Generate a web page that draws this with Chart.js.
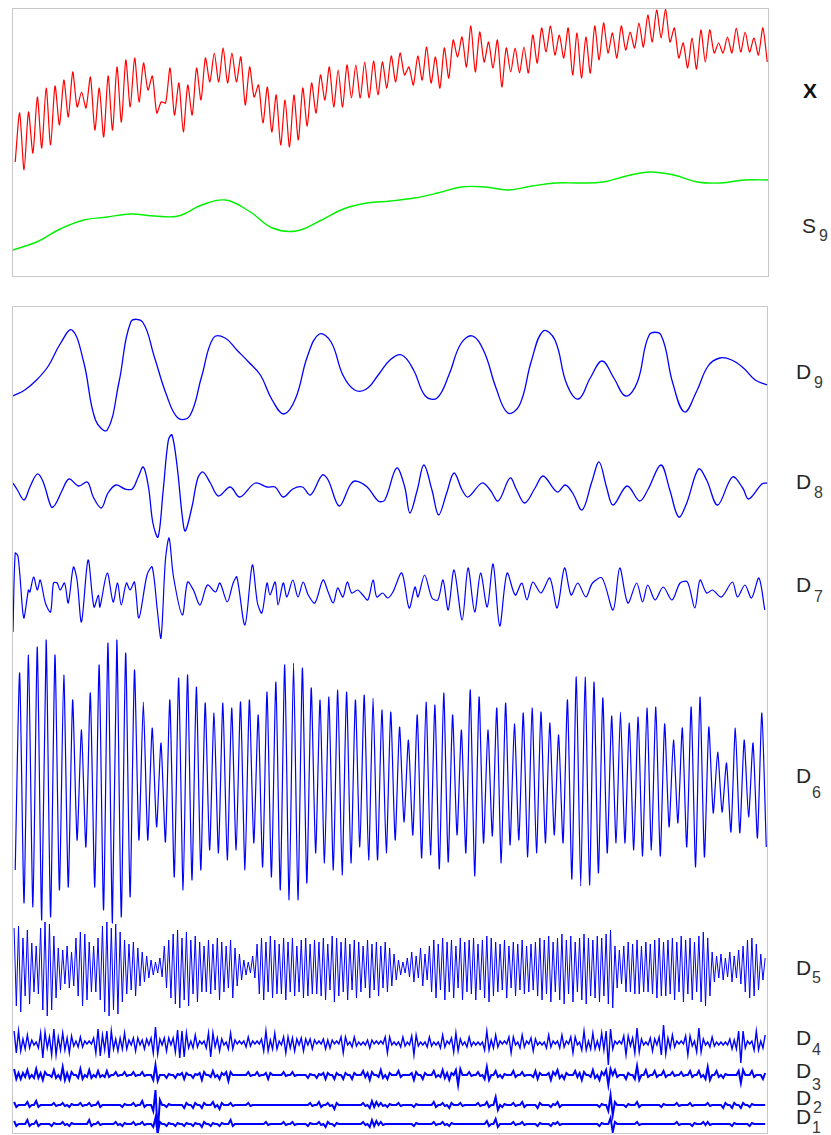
<!DOCTYPE html>
<html><head><meta charset="utf-8">
<script src="https://cdn.jsdelivr.net/npm/chart.js@4.4.1/dist/chart.umd.min.js"></script>
<style>
html,body{margin:0;padding:0;background:#fff;}
#page{position:relative;width:831px;height:1135px;overflow:hidden;font-family:"Liberation Sans",Arial,sans-serif;}
.panel{position:absolute;border:1px solid #c8c8c8;}
.panel canvas{position:absolute;left:0;top:0;}
.lab{position:absolute;font-size:21px;line-height:21px;color:#262626;white-space:nowrap;}
.sub{position:absolute;font-size:16px;line-height:16px;color:#3a3a3a;white-space:nowrap;}
</style></head>
<body><div id="page">
<div class="panel" style="left:12px;top:8px;width:755px;height:267px;"><canvas id="cTop" width="755" height="267" style="width:755px;height:267px"></canvas></div>
<div class="panel" style="left:12px;top:306px;width:754px;height:826px;"><canvas id="cBot" width="754" height="826" style="width:754px;height:826px"></canvas></div>
</div>
<script>
// ---------------- DATA ----------------
// time axis: sample index 0..1024
const T_MIN = 0, T_MAX = 1024;
// sampling of the coarse-grid series (X, D6)
const X_T0 = 3, X_DT = 6;
// sampling of the fine-grid series (D5..D1)
const F_T0 = 1.5, F_DT = 3;
// S9 / D9 sampling
const S9_T0 = 0, S9_DT = 32;
const D9_T0 = 0, D9_DT = 16;

const xSignal = [113,162,105,163,122,178,127,187,130,189,
150,195,158,203,168,183,167,198,145,187,
138,199,145,208,153,215,168,217,173,212,
185,199,162,173,172,207,160,192,143,190,
160,207,175,217,193,222,193,227,192,222,
193,218,170,208,178,190,152,188,143,180,
130,175,128,180,135,187,149,192,162,200,
175,208,168,205,168,210,177,210,177,213,
177,214,180,213,187,219,193,222,200,208,
190,219,195,228,192,218,187,227,197,235,
218,238,208,249,203,243,213,233,207,235,
188,227,203,227,202,228,202,240,212,247,
223,249,220,240,217,247,200,242,197,238,
202,249,215,252,222,242,217,249,225,243,
227,252,228,260,233,265,237,266,233,247,
217,232,207,237,206,245,213,245,222,232,
222,238,222,247,223,243,223,237,220,247,
213];

const s9 = [25,33,46,55,58,61,59,59,70,75,64,47,44,54,66,72,74,77,82,88,88,85,89,92,92,93,99,103,100,93,92,95,95];

const d9 = [-26,-20,-10,4,26,40,8,-50,-60,-12,48,48,13,-24,-48,-46,-7,32,32,20,8,-5,-30,-44,-28,14,36,28,-5,-20,-19,-5,10,15,0,-26,-28,-5,26,34,18,-18,-43,-35,9,39,30,-14,-29,-8,9,-8,-26,-12,35,35,-13,-42,-22,4,12,10,2,-10,-15];

const d8T = [0,6,15,23,33,41,52,57,67,76,89,101,109,120,129,140,152,162,170,177,184,190,197,204,211,216,223,230,234,243,251,258,268,279,295,308,329,345,356,367,380,393,404,420,428,443,458,465,481,496,505,521,532,539,549,558,569,578,589,599,610,618,637,648,659,675,684,695,709,720,739,750,760,773,786,796,806,815,834,851,862,880,892,904,915,931,942,957,977,991,999,1017,1024];
const d8V = [2,-5,-15,-2,11,3,-22,-20,-5,6,-1,3,-12,-23,-8,0,-4,-4,8,18,-2,-38,-52,-5,45,50,18,-32,-46,-22,7,13,2,-11,-2,-12,2,-2,-2,-12,-4,-2,-10,10,5,-21,0,4,-2,-16,-15,17,-2,-28,-5,20,-5,-30,-8,12,-5,-12,2,-5,-16,7,-5,-18,-3,9,-7,0,-8,-25,3,23,-2,-20,-1,-16,-5,20,-5,-32,-18,16,5,-20,8,-3,-14,1,2];

const d7T = [0,3,7,13,15,21,23,28,33,37,44,51,55,60,64,70,75,82,87,93,102,110,116,118,128,136,142,147,154,159,165,171,182,189,196,201,207,212,218,230,237,245,254,264,275,281,291,299,304,315,325,332,338,345,349,356,360,367,372,380,387,394,401,410,421,428,435,441,448,454,460,468,475,482,489,494,502,509,516,528,538,546,550,559,569,577,584,591,599,610,618,627,635,644,652,661,671,682,691,698,706,717,729,739,749,758,767,778,787,800,815,824,835,847,855,862,872,883,895,906,916,926,933,942,950,962,977,984,994,1003,1013,1021];
const d7V = [-44,35,31,-22,-30,-2,-4,11,-2,8,-15,-24,5,5,-2,5,-15,21,8,-34,28,-19,-7,-19,15,-14,5,-17,5,-2,6,-30,13,21,-22,-50,28,50,11,-27,6,-2,-17,3,-4,5,-14,5,11,-37,23,-15,-25,5,-7,6,-17,5,-9,8,-9,6,-7,-15,8,-4,-15,0,-9,6,-5,-2,-7,-12,8,-9,-5,-10,-4,15,-20,1,-9,13,-10,-12,8,-22,18,-32,20,-24,15,-19,24,-38,15,-7,5,-12,6,-5,10,-20,20,-7,5,-9,5,10,-22,20,-15,5,-14,3,-12,1,-12,5,6,-20,8,-5,-2,-9,6,-9,3,-10,10,-22];

const d6 = [-90,107,-123,125,-127,133,-140,140,-137,125,-110,105,-107,80,-60,50,-67,87,-107,115,
-130,137,-143,140,-137,127,-117,110,-60,78,-60,52,-47,37,-62,80,-97,102,-110,105,
-100,93,-90,77,-70,67,-73,77,-80,72,-70,78,-90,80,-63,65,-87,88,-97,98,
-110,115,-120,117,-120,112,-103,92,-73,80,-83,83,-90,90,-95,88,-83,80,-67,85,
-80,82,-80,70,-73,68,-60,53,
-42,40,-55,65,-78,78,-75,75,-89,87,-82,65,-55,50,-73,90,-96,83,-63,50,
-56,72,-83,77,-65,56,-60,67,-77,72,-73,68,-63,57,-55,45,-63,80,-99,103,
-106,103,-105,98,-93,82,-73,64,-63,68,-63,57,-70,63,-76,72,-70,73,-76,56,
-47,40,-43,52,-67,73,-87,83,-77,53,-33,28,-32,17,-52,52,-53,40,-37,37,
-58,67,-67];

const d5 = [40,-38,42,-44,30,-28,38,-36,25,-24,22,-26,40,-42,46,-48,44,-42,32,-30,
20,-22,18,-16,22,-20,16,-18,30,-28,36,-38,34,-32,26,-24,22,-24,30,-32,
42,-44,46,-48,40,-42,44,-46,36,-34,28,-26,24,-22,26,-28,20,-18,16,-14,
12,-10,8,-7,6,-5,10,-9,22,-20,28,-30,34,-36,38,-40,30,-32,36,-38,
28,-26,32,-34,26,-24,22,-24,28,-26,24,-22,30,-32,26,-24,22,-20,28,-30,
20,-18,14,-12,8,-7,6,-5,12,-10,24,-26,30,-32,26,-24,32,-30,28,-26,
24,-26,30,-32,26,-24,30,-28,22,-24,28,-30,30,-28,24,-26,28,-26,26,-28,
30,-32,24,-22,32,-34,30,-28,26,-24,30,-32,24,-22,28,-30,26,-24,22,-20,
28,-30,24,-22,26,-28,22,-20,26,-24,20,-18,14,-12,8,-7,6,-5,10,-9,
16,-14,12,-10,20,-18,14,-12,22,-24,28,-30,24,-22,30,-32,26,-24,28,-30,
22,-20,30,-32,26,-24,28,-26,30,-32,24,-22,28,-30,32,-34,30,-28,26,-24,
24,-22,28,-30,22,-20,26,-28,24,-22,28,-26,22,-24,24,-22,26,-28,30,-32,
28,-26,32,-34,26,-24,30,-32,34,-36,28,-26,32,-34,26,-24,30,-32,34,-36,
30,-28,28,-30,32,-34,30,-28,34,-36,38,-40,22,-20,18,-16,22,-24,26,-24,
24,-26,28,-26,22,-24,26,-24,24,-26,28,-30,30,-28,26,-28,28,-26,30,-32,
26,-24,32,-34,28,-26,30,-32,26,-24,32,-34,36,-38,30,-28,16,-14,12,-10,
14,-12,10,-9,16,-14,12,-10,18,-16,22,-24,28,-30,30,-28,24,-22,14,-12,
10];

const d4 = [12,-10,12,-8,4,-6,8,-5,3,-2, 1,-5,10,-15,11,-5,6,-12,14,-12,
6,-7,10,-7,5,-10,7,-3,2,-4, 6,-4,2,-1,2,-1,5,-10,14,-13,
8,-7,12,-15,12,-6,4,-8,5,-6, 10,-6,3,-2,5,-8,5,-2,3,-6,
4,-2,5,-10,16,-11,4,-2,5,-8, 5,-2,5,-9,13,-15,12,-14,10,-5,
2,-5,8,-4,2,-1,2,-5,10,-14, 10,-4,5,-8,4,-2,1,-6,10,-6,
3,-1,2,-1,2,-4,6,-3,2,-1, 2,-1,4,-8,12,-8,3,-6,10,-6,
2,-2,6,-10,6,-5,5,-8,4,-2, 5,-8,4,-2,4,-6,3,-1,2,-1,
4,-6,3,-5,3,-1,2,-1,6,-10, 6,-2,1,-4,6,-3,1,-2,1,-2,
3,-5,3,-1,2,-1,2,-1,6,-10, 6,-2,1,-2,1,-4,6,-3,1,-2,
7,-12,8,-3,1,-2,1,-4,6,-3, 1,-2,1,-5,8,-4,2,-1,5,-9,
10,-8,4,-2,1,-4,6,-3,1,-2, 1,-2,1,-7,12,-7,3,-5,8,-4,
2,-1,2,-1,6,-10,6,-2,1,-5, 8,-4,2,-1,5,-8,4,-2,1,-2,
1,-5,8,-4,2,-1,2,-5,8,-4, 2,-1,6,-10,6,-2,1,-7,12,-7,
2,-6,10,-6,2,-6,10,-7,12,-22, 14,-6,2,-1,2,-1,7,-12,7,-3,
5,-10,15,-9,4,-2,1,-2,5,-8, 4,-2,6,-12,18,-11,5,-5,8,-4,
2,-1,2,-1,7,-12,7,-3,2,-9, 15,-9,4,-2,1,-4,6,-3,1,-2,
1,-2,1,-2,4,-6,3,-6,12,-20, 12,-5,2,-1,2,-7,12,-7,2,-5,
8];

const d3 = [6,-4,2,-4,2,-2,5,-3,0,-3, 6,-3,2,-5,3,0,0,-2,5,-3,
0,-4,8,-5,2,-5,3,0,0,-3, 6,-4,0,-2,5,-3,0,-2,4,-2,
0,-2,4,-2,0,0,3,-1,0,0, 3,-1,0,0,3,-1,0,0,3,-1,
0,0,0,-5,10,-6,0,0,0,-3, 1,0,0,-3,1,0,2,-4,2,0,
0,-3,1,0,2,-5,3,0,0,-2, 4,-2,0,-4,2,0,3,-6,3,0,
0,0,0,0,0,0,3,-1,0,0, 3,-1,0,0,2,-4,2,0,0,0,
0,0,3,-1,0,0,3,-1,0,0, 0,0,0,-3,1,0,0,-3,1,0,
2,-4,2,0,0,-4,2,0,0,-4, 2,0,0,-4,2,0,0,0,4,-2,
2,-5,3,0,0,-2,5,-3,0,-4, 2,0,0,0,4,-2,0,0,0,0,
2,-5,3,0,0,-4,2,0,0,0, 4,-2,0,-2,5,-3,2,-5,2,0,
5,-10,6,0,0,0,3,-1,0,0, 3,-1,0,-4,8,-5,0,0,4,-2,
0,-3,1,0,0,0,4,-2,0,0, 3,-1,0,0,0,-2,4,-4,2,0,
0,0,2,-5,3,0,5,-3,0,-4, 2,0,0,0,4,-2,2,-5,3,0,
0,-2,5,-3,0,-5,3,0,5,-10, 6,0,5,-2,0,0,0,-4,2,0,
0,-4,9,-5,0,0,5,-2,0,0, 4,-2,0,0,4,-2,0,0,3,-1,
0,0,3,-1,0,0,4,-2,0,0, 4,-2,0,-4,8,-5,0,0,4,-2,
0,-3,1,0,0,0,0,0,4,-8, 5,0,0,0,4,-2,0,0,0,-4,
2];

const d2 = [3,-2,0,0,0,0,3,-2,0,0, 4,-2,0,0,0,0,0,0,2,-1,
0,0,2,-1,0,-2,1,0,0,0, 2,-1,0,0,2,-1,0,0,3,-2,
0,0,0,0,0,0,0,0,0,-2, 1,0,0,0,2,-1,0,0,4,-2,
0,0,0,-6,15,-28,5,0,0,-2, 1,0,0,0,0,0,0,-3,2,0,
0,-3,2,0,0,-3,2,0,0,0, 3,-2,0,-4,2,0,0,0,2,-1,
0,0,0,0,0,0,2,-1,0,0, 0,0,0,0,0,0,0,0,0,0,
0,0,0,0,0,0,0,0,0,0, 0,0,0,0,2,-1,0,0,3,-2,
0,0,2,-1,0,-4,2,0,0,0, 0,0,0,0,0,0,0,0,2,-1,
0,-3,4,-2,3,-1,2,-1,0,-2, 1,0,0,0,2,-1,0,0,0,0,
0,-2,1,0,0,0,0,0,0,0, 3,-2,0,0,2,-1,0,-3,2,0,
0,0,2,-1,0,0,0,0,0,0, 2,-1,0,0,3,-2,0,0,8,-5,
0,-2,1,0,0,0,2,-1,0,0, 3,-2,0,0,0,0,0,-3,2,0,
0,0,0,-2,1,0,3,-2,0,0, 0,0,0,0,0,0,0,0,0,0,
0,0,0,0,0,-2,1,0,0,-6, 10,-10,3,0,0,0,0,-2,1,0,
0,0,3,-2,0,0,0,0,0,0, 0,0,0,-2,1,0,0,0,0,0,
2,-1,0,0,0,0,2,-1,0,0, 0,0,0,0,2,-1,0,0,0,0,
0,-3,2,0,0,-3,2,0,0,-3, 2,0,0,-2,1,0,0,0,0,0,
0];

const d1 = [3,-2,0,0,0,0,4,-2,0,0, 3,-2,0,0,0,0,0,-2,1,0,
0,0,2,-1,0,-2,1,0,0,0, 0,0,0,0,4,-2,0,0,2,-1,
0,0,0,0,0,0,2,-1,0,-2, 1,0,0,0,2,-1,0,0,2,-1,
0,0,0,-3,6,-9,2,0,0,-2, 1,0,0,-2,1,0,0,-2,1,0,
0,-2,1,0,0,-3,2,0,0,-2, 1,0,0,-2,1,0,0,0,4,-2,
0,0,0,0,0,0,0,0,0,0, 0,0,0,0,2,-1,0,0,0,0,
0,0,2,-1,0,0,2,-1,0,0, 0,0,0,-2,1,0,0,0,2,-1,
0,-3,2,0,0,-2,1,0,0,0, 0,0,0,0,0,0,0,0,2,-1,
0,-3,4,-2,3,-1,2,-1,0,0, 0,0,0,0,0,0,0,0,0,0,
0,-2,1,0,0,0,0,0,0,0, 2,-1,0,0,2,-1,0,-2,1,0,
0,0,0,0,0,0,0,0,0,0, 0,0,0,0,3,-2,0,0,5,-3,
0,0,0,0,0,0,2,-1,0,0, 2,-1,0,0,0,0,0,-2,1,0,
0,0,0,-2,1,0,2,-1,0,0, 0,0,0,0,0,0,0,0,0,0,
0,0,0,0,0,-2,1,0,0,0, 6,-8,2,0,0,0,0,0,0,0,
0,0,2,-1,0,0,0,0,0,0, 0,0,0,0,0,0,0,0,0,0,
2,-1,0,0,0,0,0,-2,1,0, 0,0,2,-1,2,-1,0,0,0,0,
0,0,0,0,0,-2,1,0,0,0, 0,0,0,-2,1,0,0,0,0,0,
0];

// series names (right-hand labels)
const labelMain = ['X','S','D','D','D','D','D','D','D','D','D'];
const labelSub  = ['', '9','9','8','7','6','5','4','3','2','1'];

// ---------------- LAYOUT / STYLE ----------------
const TOP_CANVAS = {top: 9, height: 267};
const BOT_CANVAS = {top: 307, height: 826};
// page-y of each component's zero line in the lower panel
const bandCenter = {d9:370, d8:485, d7:588, d6:780, d5:968, d4:1043, d3:1075, d2:1105, d1:1124};
// label placement: [capTop, subTop, mainLeft, subLeft, bold]
const labelPos = [
  [83, 0, 803, 0, true],
  [218, 230, 802, 819, false],
  [364, 377, 796, 814, false],
  [474, 487, 796, 814, false],
  [577, 591, 796, 814, false],
  [768, 787, 796, 812, false],
  [960, 972, 796, 812, false],
  [1030, 1044, 796, 812, false],
  [1063, 1079, 796, 812, false],
  [1090, 1102, 796, 813, false],
  [1109, 1122, 796, 812, false]
];

const page = document.getElementById('page');
labelMain.forEach((m, i) => {
  const p = labelPos[i];
  const a = document.createElement('div');
  a.className = 'lab';
  a.textContent = m;
  a.style.left = p[2] + 'px';
  a.style.top = (p[0] - 3) + 'px';
  if (p[4]) { a.style.fontWeight = 'bold'; a.style.color = '#111'; }
  page.appendChild(a);
  if (labelSub[i]) {
    const s = document.createElement('div');
    s.className = 'sub';
    s.textContent = labelSub[i];
    s.style.left = p[3] + 'px';
    s.style.top = (p[1] - 2) + 'px';
    page.appendChild(s);
  }
});

const uniform = (vals, t0, dt) => vals.map((v, i) => ({x: t0 + i * dt, y: v}));
const paired = (ts, vs) => ts.map((t, i) => ({x: t, y: vs[i]}));

const common = {
  responsive: false, animation: false, devicePixelRatio: 1, events: [],
  layout: {padding: 0},
  plugins: {legend: {display: false}, tooltip: {enabled: false}, title: {display: false}},
  elements: {point: {radius: 0}}
};

// upper panel: signal and approximation
new Chart(document.getElementById('cTop'), {
  type: 'line',
  data: {datasets: [
    {data: uniform(xSignal, X_T0, X_DT), borderColor: '#ff0000', borderWidth: 1.2, tension: 0.25, pointRadius: 0},
    {data: uniform(s9, S9_T0, S9_DT), borderColor: '#00f000', borderWidth: 1.4, tension: 0.4, pointRadius: 0}
  ]},
  options: Object.assign({}, common, {
    scales: {
      x: {type: 'linear', min: T_MIN, max: T_MAX, display: false},
      y: {min: -1, max: 266, display: false}
    }
  })
});

// lower panel: detail components, each on its own vertical scale
const comps = [
  {id: 'd9', data: uniform(d9, D9_T0, D9_DT), tension: 0.4, w: 1.3},
  {id: 'd8', data: paired(d8T, d8V), tension: 0.35, w: 1.3},
  {id: 'd7', data: paired(d7T, d7V), tension: 0.3, w: 1.2},
  {id: 'd6', data: uniform(d6, X_T0, X_DT), tension: 0.2, w: 1.2},
  {id: 'd5', data: uniform(d5, F_T0, F_DT), tension: 0, w: 1.0},
  {id: 'd4', data: uniform(d4, F_T0, F_DT), tension: 0, w: 1.4},
  {id: 'd3', data: uniform(d3, F_T0, F_DT), tension: 0, w: 2},
  {id: 'd2', data: uniform(d2, F_T0, F_DT), tension: 0, w: 2},
  {id: 'd1', data: uniform(d1, F_T0, F_DT), tension: 0, w: 2}
];
const botScales = {x: {type: 'linear', min: T_MIN, max: T_MAX, display: false}};
comps.forEach(c => {
  const ctr = bandCenter[c.id];
  botScales['y_' + c.id] = {
    display: false,
    max: ctr - BOT_CANVAS.top,
    min: ctr - (BOT_CANVAS.top + BOT_CANVAS.height)
  };
});
new Chart(document.getElementById('cBot'), {
  type: 'line',
  data: {datasets: comps.map(c => ({
    data: c.data, yAxisID: 'y_' + c.id, borderColor: '#0000ff', borderWidth: c.w, pointRadius: 0, tension: c.tension
  }))},
  options: Object.assign({}, common, {scales: botScales})
});
</script>
</body></html>
